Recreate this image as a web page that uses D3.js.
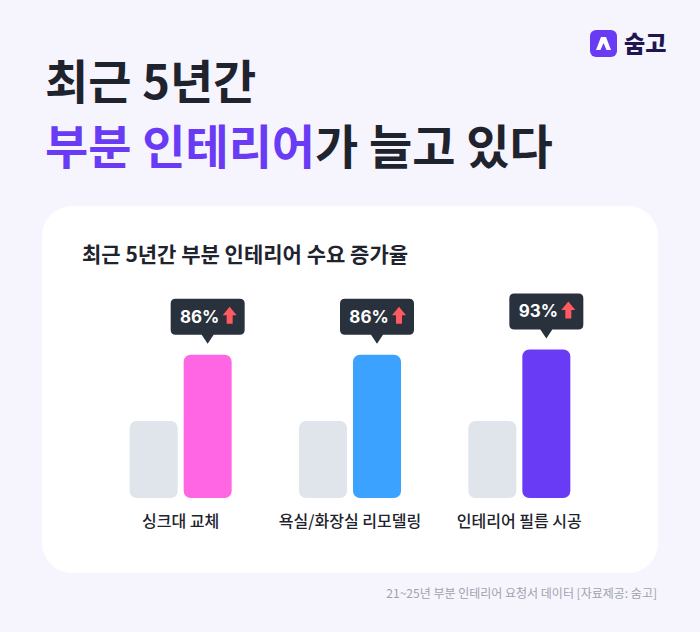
<!DOCTYPE html>
<html>
<head>
<meta charset="utf-8">
<script src="https://cdn.jsdelivr.net/npm/d3@7"></script>
<style>
  html, body { margin: 0; padding: 0; background: #f6f5fe; }
  svg { display: block; font-family: "Noto Sans CJK KR", "Noto Sans", sans-serif; }
</style>
</head>
<body>
<div id="chart"></div>
<script>
// categories and values (gray = 2021 baseline index 100, colored = 2025)
const categories = ['싱크대 교체', '욕실/화장실 리모델링', '인테리어 필름 시공'];
const baseValues = [100, 100, 100];
const currentValues = [186, 186, 193];
const growthLabels = ['86%', '86%', '93%'];
const barColors = ['#ff66e3', '#3ba2ff', '#6a3bf5'];

const width = 700, height = 632;

const svg = d3.select('#chart')
    .append('svg')
    .attr('width', width)
    .attr('height', height);

svg.append('rect')
    .attr('width', width)
    .attr('height', height)
    .attr('fill', '#f6f5fe');

// logo
svg.append('rect')
    .attr('x', 590).attr('y', 30)
    .attr('width', 27).attr('height', 27)
    .attr('rx', 6)
    .attr('fill', '#6a3bf5');
svg.append('path')
    .attr('d', 'M596,50 L600.5,50 L603.5,43 L606.5,50 L611,50 L606,37 L601,37 Z')
    .attr('fill', '#fff');
svg.append('text')
    .attr('x', 624).attr('y', 52)
    .attr('font-size', 23).attr('font-weight', 900)
    .attr('fill', '#1d1650')
    .text('숨고');

// headline
svg.append('text')
    .attr('x', 45).attr('y', 99)
    .attr('font-size', 47).attr('font-weight', 700)
    .attr('fill', '#1e232d')
    .text('최근 5년간');

let line2 = svg.append('text')
    .attr('x', 45).attr('y', 164)
    .attr('font-size', 47).attr('font-weight', 700)
    .attr('fill', '#1e232d');
line2.append('tspan').attr('fill', '#6a3bf5').text('부분 인테리어');
line2.append('tspan').text('가 늘고 있다');

// card
svg.append('rect')
    .attr('x', 42).attr('y', 206)
    .attr('width', 616).attr('height', 367)
    .attr('rx', 30)
    .attr('fill', '#ffffff');

svg.append('text')
    .attr('x', 82).attr('y', 262)
    .attr('font-size', 21).attr('font-weight', 700)
    .attr('fill', '#1e232d')
    .text('최근 5년간 부분 인테리어 수요 증가율');

// scales
const x = d3.scaleBand()
    .domain(categories)
    .range([96, 604])
    .paddingInner(0)
    .paddingOuter(0);

const y = d3.scaleLinear()
    .domain([0, 100])
    .range([498, 421]);

const barW = 48, gap = 6;

const groups = svg.selectAll('g.group')
    .data(categories)
    .join('g')
    .attr('class', 'group')
    .attr('transform', d => `translate(${x(d) + x.bandwidth() / 2},0)`);

// baseline bars
groups.append('rect')
    .attr('x', -barW - gap / 2)
    .attr('y', (d, i) => y(baseValues[i]))
    .attr('width', barW)
    .attr('height', (d, i) => y(0) - y(baseValues[i]))
    .attr('rx', 7)
    .attr('fill', '#e0e5ec');

// current bars
groups.append('rect')
    .attr('x', gap / 2)
    .attr('y', (d, i) => y(currentValues[i]))
    .attr('width', barW)
    .attr('height', (d, i) => y(0) - y(currentValues[i]))
    .attr('rx', 7)
    .attr('fill', (d, i) => barColors[i]);

// tooltips
const tipW = 74, tipH = 36;
let tips = groups.append('g')
    .attr('transform', (d, i) => `translate(${gap / 2 + barW / 2},${y(currentValues[i]) - 20})`);

tips.append('path')
    .attr('d', () => {
        const l = -tipW / 2, r = tipW / 2, t = -tipH, b = 0, rr = 5;
        return `M${l + rr},${t} L${r - rr},${t} Q${r},${t} ${r},${t + rr} L${r},${b - rr} Q${r},${b} ${r - rr},${b}` +
            ` L6,${b} L0,${b + 9} L-6,${b} L${l + rr},${b} Q${l},${b} ${l},${b - rr} L${l},${t + rr} Q${l},${t} ${l + rr},${t} Z`;
    })
    .attr('fill', '#29313d');

tips.append('text')
    .attr('x', -8).attr('y', -12)
    .attr('text-anchor', 'middle')
    .attr('font-family', 'Inter, "Noto Sans", sans-serif')
    .attr('font-size', 17).attr('font-weight', 700)
    .attr('fill', '#ffffff')
    .text((d, i) => growthLabels[i]);

// up arrow
tips.append('path')
    .attr('d', 'M22,-28 L29,-19.5 L25,-19.5 L25,-11 L19,-11 L19,-19.5 L15,-19.5 Z')
    .attr('fill', '#ff5a5f');

// category labels
groups.append('text')
    .attr('y', 527)
    .attr('text-anchor', 'middle')
    .attr('font-size', 16).attr('font-weight', 500)
    .attr('fill', '#1e232d')
    .text(d => d);

// source
svg.append('text')
    .attr('x', 657).attr('y', 598)
    .attr('text-anchor', 'end')
    .attr('font-size', 12)
    .attr('fill', '#9ea2ad')
    .text('21~25년 부분 인테리어 요청서 데이터 [자료제공: 숨고]');
</script>
</body>
</html>
